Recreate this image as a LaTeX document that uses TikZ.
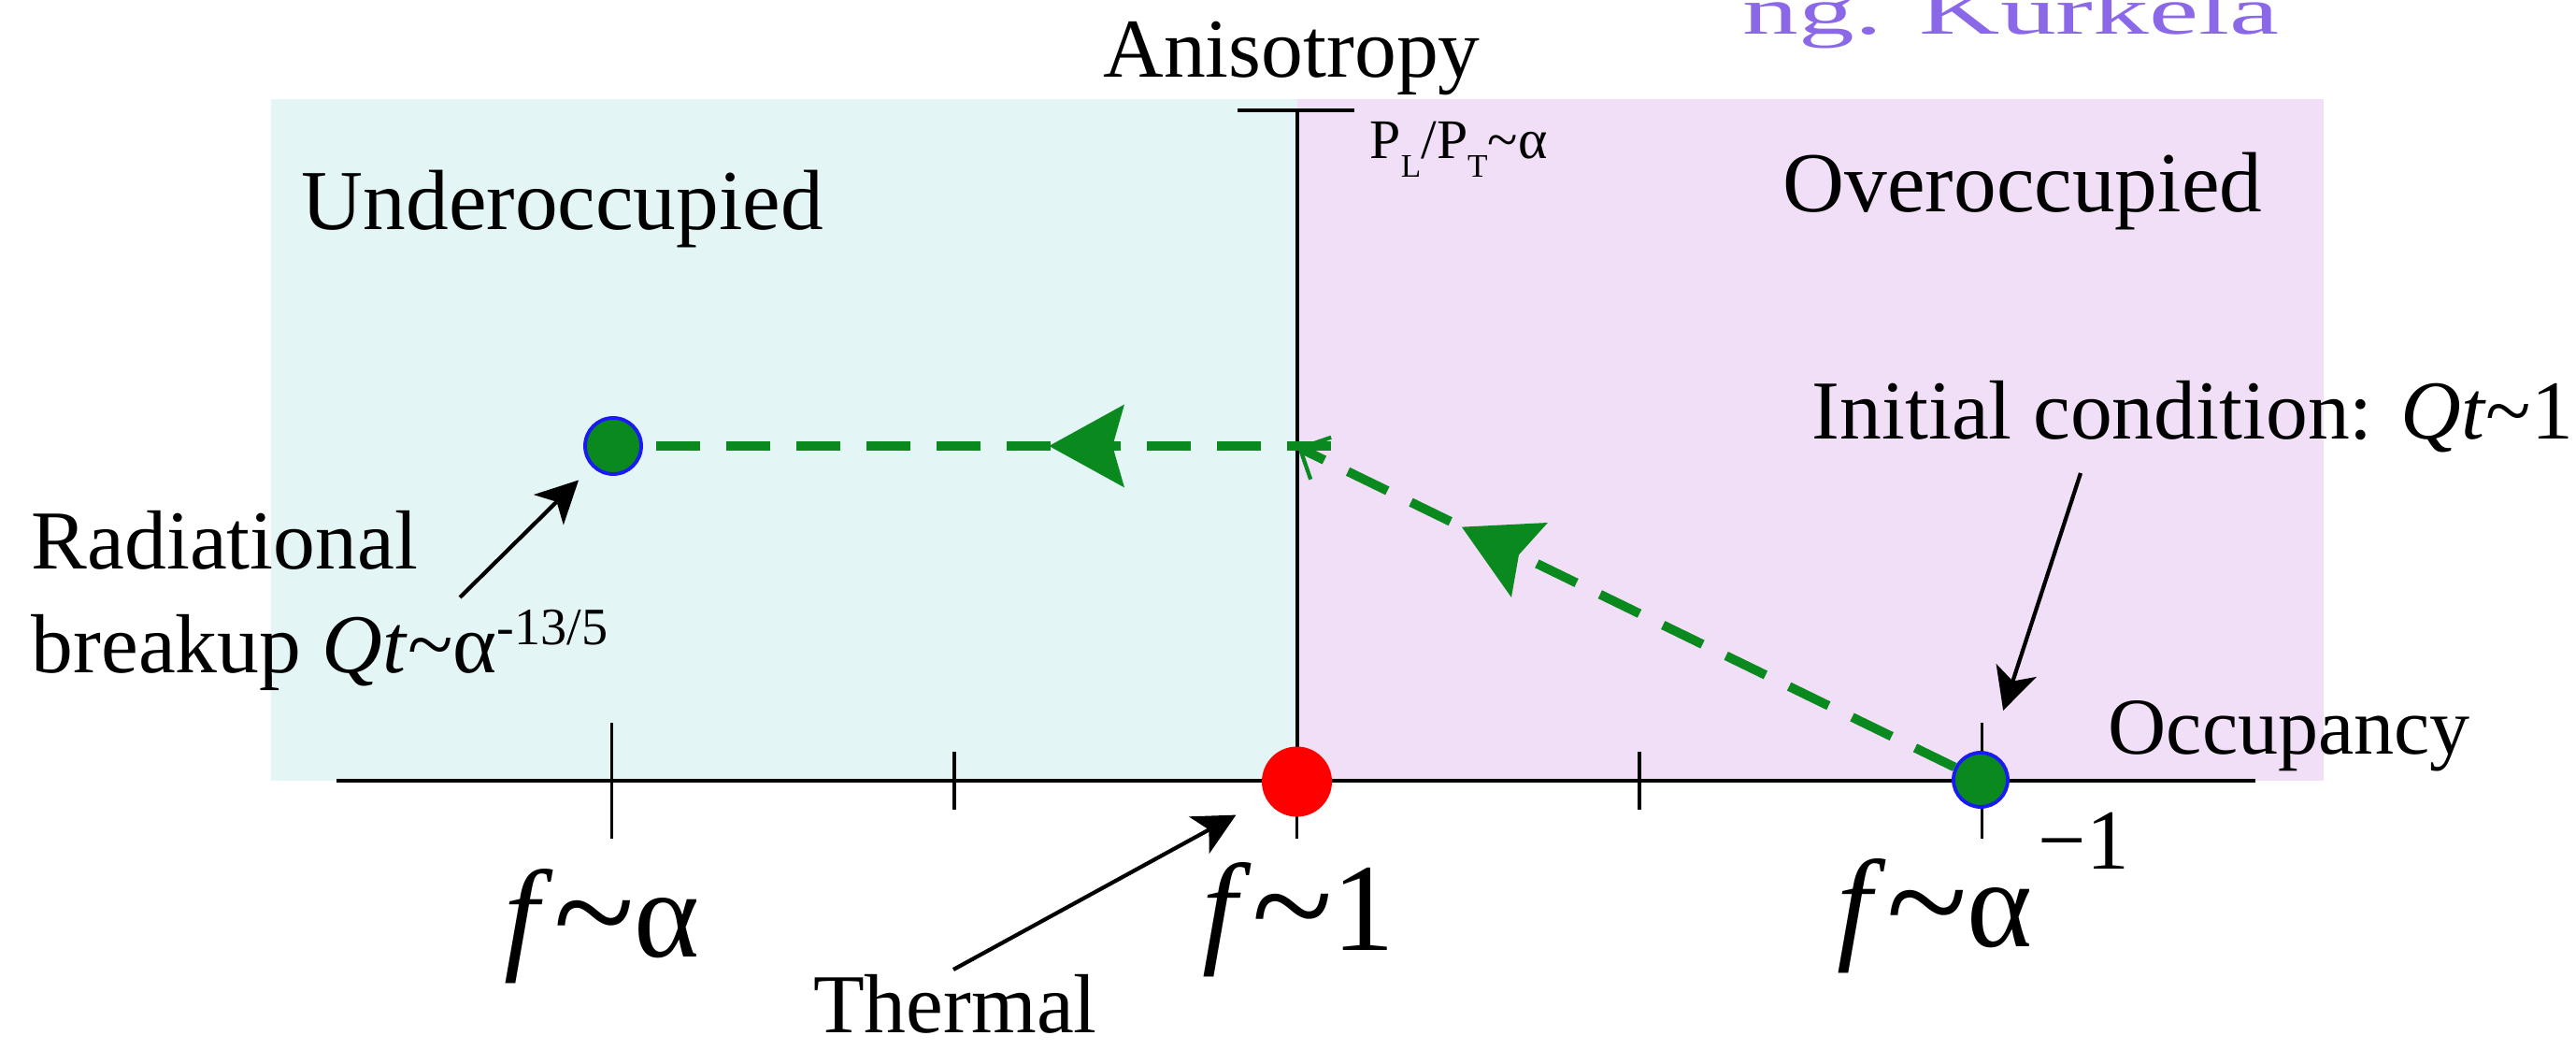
\documentclass[tikz,border=0pt]{standalone}
\usepackage{fontspec}
\setmainfont{Liberation Serif}
\usepackage{xcolor}
\definecolor{under}{HTML}{E4F5F5}
\definecolor{over}{HTML}{F1DEF7}
\definecolor{flowgreen}{HTML}{0A8A1E}
\definecolor{rimblue}{HTML}{1A1AF5}
\definecolor{credit}{HTML}{8A68E8}
\usetikzlibrary{arrows.meta,positioning,decorations.markings}
\newcommand{\lowsub}[1]{\raisebox{-0.2cm}{\fontsize{10}{10}\selectfont #1}}
\newcommand{\bigtilde}{\raisebox{-0.06cm}{\scalebox{1.2}{\textasciitilde}}}
\tikzset{
  lbl/.style={inner sep=0pt, anchor=base west, font=\fontsize{25.5}{30}\selectfont},
  biglbl/.style={lbl, font=\fontsize{26}{30}\selectfont},
  axislbl/.style={lbl, font=\fontsize{38}{44}\selectfont},
  axisline/.style={draw=black, line width=1.35pt},
  tickmark/.style={draw=black, line width=1.1pt},
  dot/.style={circle, inner sep=0pt, minimum size=#1},
  flow/.style={draw=flowgreen, line width=2.8pt, dash pattern=on 4.7mm off 2.8mm},
  pointer/.style={draw=black, line width=1.2pt, -{Stealth[length=4.5mm,width=4.5mm,inset=1.2mm]}},
  midhead/.style={postaction={decorate}, decoration={markings,
    mark=at position #1 with {\arrow{Stealth[length=8mm,width=8.7mm,inset=1.2mm]}}}},
}

\begin{document}
\begin{tikzpicture}
  \useasboundingbox (0,0) rectangle (27.56,11.23);
  % regions
  \fill[under] (2.90,2.88) rectangle (13.88,10.17);
  \fill[over] (13.88,2.88) rectangle (24.86,10.17);
  % axes
  \draw[axisline] (3.60,2.88) -- (24.13,2.88);
  \draw[axisline] (13.88,2.88) -- (13.88,10.05);
  \draw[axisline] (13.24,10.05) -- (14.49,10.05);
  \foreach \k in {-2,2} \draw[tickmark] (13.875+\k*3.665,2.26) -- ++(0,1.24);
  \foreach \k in {-1,1} \draw[tickmark] (13.875+\k*3.665,2.57) -- ++(0,0.62);
  \draw[tickmark] (13.875,2.26) -- (13.875,2.88);

  % states
  \node[dot=6mm, fill=flowgreen, draw=rimblue, line width=1.1pt] (breakdot) at (6.56,6.46) {};
  \node[dot=5.8mm, fill=flowgreen, draw=rimblue, line width=1.1pt] (initdot) at (21.19,2.89) {};
  \node[dot=7.5mm, fill=red] (thermdot) at (13.875,2.87) {};
  \coordinate (cross) at (13.88,6.45);
  \coordinate (hend) at (14.24,6.46);

  % flow
  \draw[flow, midhead=0.75, -{Straight Barb[length=2.5mm,width=5mm,line width=1.2pt]}] (initdot) -- (cross);
  \draw[flow, midhead=0.41] (hend) -- (breakdot);

  % labels
  \node[lbl, anchor=base] (aniso) at (13.82,10.40) {Anisotropy};
  \node[lbl, font=\fontsize{17}{20}\selectfont] (ratio) at (14.65,9.53) {P\lowsub{L}/P\lowsub{T}\textasciitilde α};
  \node[biglbl] (underlbl) at (3.22,8.77) {Underoccupied};
  \node[biglbl] (overlbl) at (19.07,8.96) {Overoccupied};
  \node[lbl] (initlbl) at (19.38,6.53) {Initial condition: \textit{Qt}\textasciitilde 1};
  \node[lbl, font=\fontsize{24.5}{28}\selectfont] (occlbl) at (22.55,3.16) {Occupancy};
  \node[lbl] (radlbl) at (0.33,5.14) {Radiational};
  \node[lbl] (breaklbl) at (0.33,4.03) {breakup \textit{Qt}\textasciitilde α\raisebox{0.30cm}{\fontsize{16}{16}\selectfont -13/5}};
  \node[lbl, anchor=base] (thermlbl) at (10.22,0.18) {Thermal};
  \node[axislbl] (falpha) at (5.39,0.99) {\textit{f}\bigtilde α};
  \node[axislbl] (fone) at (12.86,1.06) {\textit{f}\bigtilde 1};
  \node[axislbl] (finv) at (19.65,1.10) {\textit{f}\bigtilde α\hspace{0.06cm}\raisebox{0.83cm}{\fontsize{26}{26}\selectfont −1}};
  \node[lbl, text=credit, font=\fontsize{34}{40}\selectfont] (credit) at (18.64,10.86) {\scalebox{1}[0.6]{ng. Kurkela}};

  % pointers
  \coordinate (radtail) at (4.92,4.84);
  \coordinate (thermtail) at (10.20,0.86);
  \coordinate (inittail) at (22.26,6.17);
  \draw[pointer, shorten >=0.2cm] (radtail) -- (breakdot);
  \draw[pointer, shorten >=0.36cm] (thermtail) -- (thermdot);
  \draw[pointer, shorten >=0.47cm] (inittail) -- (initdot);
\end{tikzpicture}
\end{document}
